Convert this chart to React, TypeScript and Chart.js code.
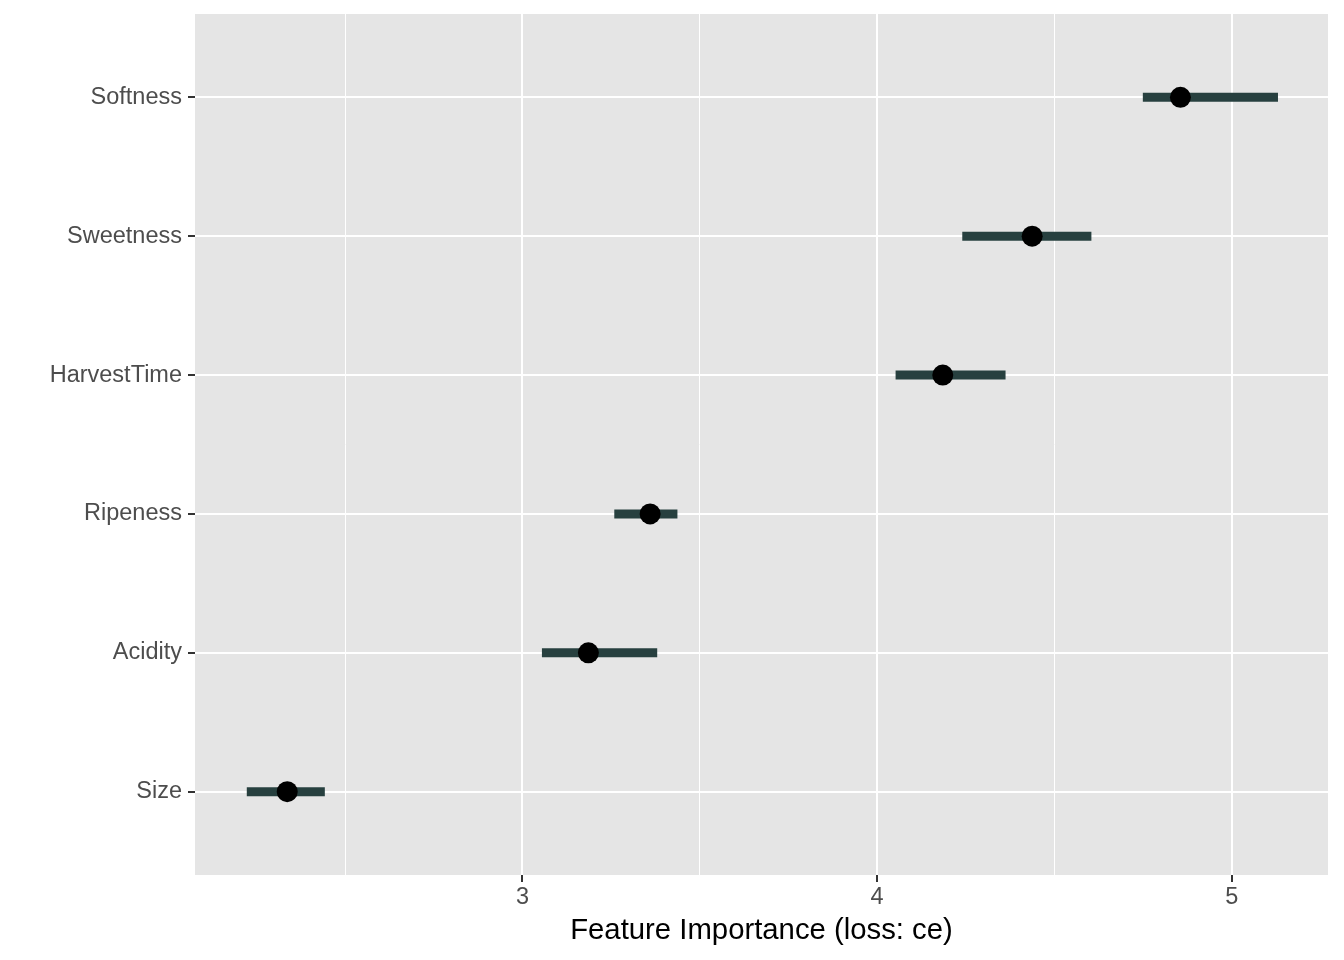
import React, { useEffect, useRef } from "react";
import { Chart, registerables } from "chart.js";

Chart.register(...registerables);

// Features from bottom (y=1) to top (y=6)
const features = ["Size", "Acidity", "Ripeness", "HarvestTime", "Sweetness", "Softness"];
const importance = [2.337, 3.186, 3.36, 4.185, 4.437, 4.855];
const lower = [2.223, 3.055, 3.259, 4.052, 4.24, 4.749];
const upper = [2.443, 3.38, 3.437, 4.362, 4.604, 5.13];
const xTicks = [2.5, 3, 3.5, 4, 4.5, 5];
const xLabelTicks = [3, 4, 5];
const xTitle = "Feature Importance (loss: ce)";

const FONT = "'Liberation Sans', Arial, Helvetica, sans-serif";

const panelBg = {
  id: "panelBg",
  beforeDraw(chart: any) {
    const { ctx, chartArea } = chart;
    ctx.save();
    ctx.fillStyle = "#E5E5E5";
    ctx.fillRect(chartArea.left, chartArea.top, chartArea.right - chartArea.left, chartArea.bottom - chartArea.top);
    ctx.restore();
  },
};

export default function App() {
  const ref = useRef<HTMLCanvasElement>(null);
  useEffect(() => {
    if (!ref.current) return;
    const errDatasets = features.map((f, i) => ({
      type: "line" as const,
      label: f + " range",
      data: [
        { x: lower[i], y: i + 1 },
        { x: upper[i], y: i + 1 },
      ],
      borderColor: "#27403F",
      borderWidth: 9,
      borderCapStyle: "butt" as const,
      pointRadius: 0,
      showLine: true,
      order: 1,
    }));
    const chart = new Chart(ref.current, {
      type: "scatter",
      data: {
        datasets: [
          {
            label: "importance",
            data: importance.map((v, i) => ({ x: v, y: i + 1 })),
            backgroundColor: "#000000",
            borderColor: "#000000",
            borderWidth: 0,
            pointRadius: 10.5,
            order: 0,
          } as any,
          ...errDatasets,
        ],
      },
      options: {
        animation: false,
        responsive: true,
        maintainAspectRatio: false,
        layout: { autoPadding: false, padding: { top: 14, right: 16, left: 0, bottom: 0 } },
        plugins: { legend: { display: false }, tooltip: { enabled: false } },
        scales: {
          x: {
            type: "linear",
            min: 2.077,
            max: 5.271,
            afterBuildTicks: (s: any) => {
              s.ticks = xTicks.map((v) => ({ value: v }));
            },
            afterFit: (s: any) => {
              s.height = 85;
              s.paddingLeft = 0;
              s.paddingRight = 0;
            },
            border: { display: false },
            grid: {
              color: "#FFFFFF",
              lineWidth: (c: any) => (xLabelTicks.includes(c.tick?.value) ? 2 : 1),
              tickColor: (c: any) => (xLabelTicks.includes(c.tick?.value) ? "#333333" : "rgba(0,0,0,0)"),
              tickWidth: 2,
              tickLength: 7,
            },
            ticks: {
              autoSkip: false,
              maxRotation: 0,
              padding: 1,
              color: "#4D4D4D",
              font: { family: FONT, size: 23.5 },
              callback: (v: any) => (xLabelTicks.includes(Number(v)) ? String(v) : ""),
            },
            title: {
              display: true,
              text: xTitle,
              color: "#000000",
              font: { family: FONT, size: 29.3 },
              padding: { top: 0, bottom: 12 },
            },
          },
          y: {
            type: "linear",
            min: 0.4,
            max: 6.6,
            afterBuildTicks: (s: any) => {
              s.ticks = features.map((_, i) => ({ value: i + 1 }));
            },
            afterFit: (s: any) => {
              s.width = 195;
              s.paddingTop = 0;
              s.paddingBottom = 0;
            },
            border: { display: false },
            grid: {
              color: "#FFFFFF",
              lineWidth: 2,
              tickColor: "#333333",
              tickWidth: 2,
              tickLength: 7,
            },
            ticks: {
              autoSkip: false,
              padding: 6,
              color: "#4D4D4D",
              font: { family: FONT, size: 23.5 },
              callback: (v: any) => features[Number(v) - 1] ?? "",
            },
          },
        },
      },
      plugins: [panelBg],
    });
    return () => chart.destroy();
  }, []);
  return (
    <div style={{ position: "absolute", left: 0, top: 0, width: 1344, height: 960, background: "#FFFFFF" }}>
      <canvas ref={ref} />
    </div>
  );
}
